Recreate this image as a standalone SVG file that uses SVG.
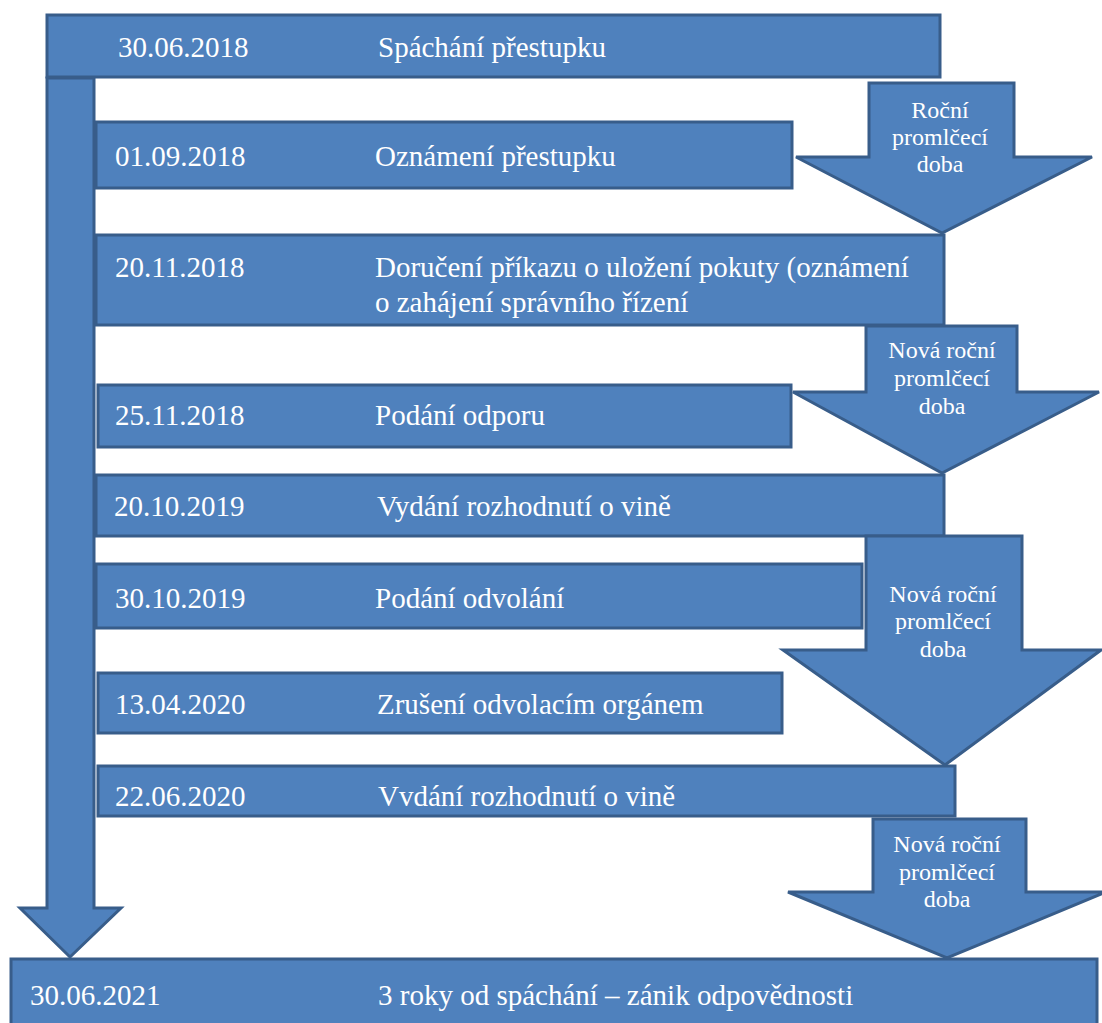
<svg xmlns="http://www.w3.org/2000/svg" width="1102" height="1023" viewBox="0 0 1102 1023">
<style>
.s{fill:#4f81bd;stroke:#385d8a;stroke-width:3;stroke-linejoin:miter}
.t{font-size:29px;fill:#ffffff}
.a{font-size:24px;fill:#ffffff;text-anchor:middle}
</style>
<rect width="1102" height="1023" fill="#ffffff"/>
<g id="connectors">
<polygon id="timeline" class="s" points="47,78 94,78 94,908 121,908 70,957 20,908 47,908"/>
</g>
<g font-family="'Liberation Serif', Tinos, 'Times New Roman', 'DejaVu Serif', serif">
<g id="n1"><rect class="s" x="47" y="15" width="893" height="62"/><text class="t" x="118" y="57">30.06.2018</text><text class="t" x="378" y="57">Spáchání přestupku</text></g>
<g id="n2"><rect class="s" x="96" y="122" width="696" height="66"/><text class="t" x="115" y="166">01.09.2018</text><text class="t" x="375" y="166">Oznámení přestupku</text></g>
<g id="n3"><rect class="s" x="96" y="235" width="848" height="90"/><text class="t" x="115" y="277">20.11.2018</text><text class="t" x="375" y="277">Doručení příkazu o uložení pokuty (oznámení</text><text class="t" x="375" y="312">o zahájení správního řízení</text></g>
<g id="n4"><rect class="s" x="98" y="385" width="693" height="62"/><text class="t" x="115" y="425">25.11.2018</text><text class="t" x="375" y="425">Podání odporu</text></g>
<g id="n5"><rect class="s" x="96" y="475" width="848" height="61"/><text class="t" x="114" y="516">20.10.2019</text><text class="t" x="377" y="516">Vydání rozhodnutí o vině</text></g>
<g id="n6"><rect class="s" x="96" y="564" width="766" height="64"/><text class="t" x="115" y="608">30.10.2019</text><text class="t" x="375" y="608">Podání odvolání</text></g>
<g id="n7"><rect class="s" x="98" y="673" width="684" height="60"/><text class="t" x="115" y="714">13.04.2020</text><text class="t" x="377" y="714">Zrušení odvolacím orgánem</text></g>
<g id="n8"><rect class="s" x="98" y="766" width="857" height="50"/><text class="t" x="115" y="806">22.06.2020</text><text class="t" x="378" y="806">Vvdání rozhodnutí o vině</text></g>
<g id="n9"><rect class="s" x="11" y="959" width="1086" height="70"/><text class="t" x="30" y="1005">30.06.2021</text><text class="t" x="378" y="1005">3 roky od spáchání – zánik odpovědnosti</text></g>
<g id="p1"><polygon class="s" points="869,83 1014,83 1014,157 1092,157 942,233 796,157 869,157"/><text class="a" x="940" y="118">Roční</text><text class="a" x="940" y="145">promlčecí</text><text class="a" x="940" y="172">doba</text></g>
<g id="p2"><polygon class="s" points="866,326 1017,326 1017,392 1099,392 942,473 793,392 866,392"/><text class="a" x="942" y="358">Nová roční</text><text class="a" x="942" y="386">promlčecí</text><text class="a" x="942" y="414">doba</text></g>
<g id="p3"><polygon class="s" points="866,536 1022,536 1022,650 1101,650 945,765 783,650 866,650"/><text class="a" x="943" y="602">Nová roční</text><text class="a" x="943" y="629">promlčecí</text><text class="a" x="943" y="657">doba</text></g>
<g id="p4"><polygon class="s" points="873,819 1026,819 1026,892 1106,892 947,958 788,892 873,892"/><text class="a" x="947" y="852">Nová roční</text><text class="a" x="947" y="880">promlčecí</text><text class="a" x="947" y="907">doba</text></g>
</g>
</svg>
